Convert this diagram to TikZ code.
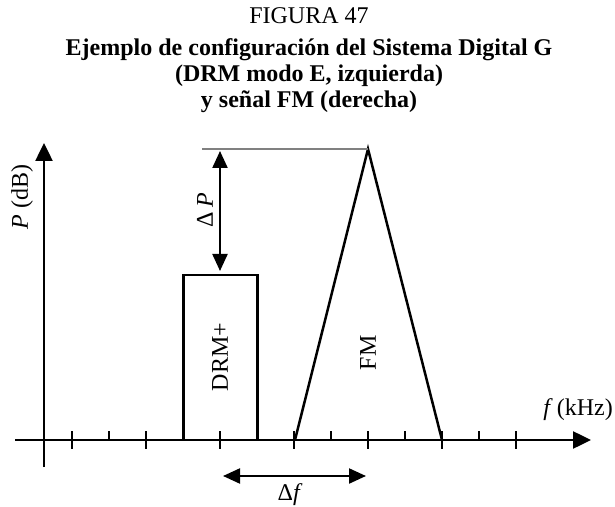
\documentclass[tikz,border=0pt]{standalone}
\usepackage{fontspec}
\setmainfont{Liberation Serif}
\usetikzlibrary{arrows.meta}
\begin{document}
\begin{tikzpicture}[x=0.5pt,y=-0.5pt,
  font=\fontsize{12}{13}\selectfont,
  axis/.style={line width=1.25pt,-{Triangle[length=9pt,width=8.5pt]}},
  curve/.style={line width=1.25pt,line join=miter},
  dim/.style={line width=1.1pt,{Triangle[length=8.5pt,width=7.5pt]}-{Triangle[length=8.5pt,width=7.5pt]}},
  tickl/.style={line width=0.6pt},
  lbl/.style={inner sep=0pt}]
\useasboundingbox (0,0) rectangle (615,507);
% titles
\node[lbl,anchor=base] (t0) at (309,24) {FIGURA 47};
\node[lbl,anchor=base,font=\fontsize{12}{13}\selectfont\bfseries] (t1) at (309,56) {Ejemplo de configuración del Sistema Digital G};
\node[lbl,anchor=base,font=\fontsize{12}{13}\selectfont\bfseries] (t2) at (309,82) {(DRM modo E, izquierda)};
\node[lbl,anchor=base,font=\fontsize{12}{13}\selectfont\bfseries] (t3) at (309,108) {y señal FM (derecha)};
% coordinates
\coordinate (yb) at (44,467);
\coordinate (yt) at (44,143);
\coordinate (xl) at (15,440);
\coordinate (xr) at (591,440);
% ticks
\foreach \x in {72,146,220,294,368,442,516} \draw[tickl] (\x,431) -- (\x,449);
\foreach \x in {109,331,405,479} \draw[tickl] (\x,431) -- (\x,440);
% axes
\draw[axis] (yb) -- (yt);
\draw[axis] (xl) -- (xr);
% DRM rectangle
\coordinate (r1) at (183.5,440);
\coordinate (r2) at (183.5,275);
\coordinate (r3) at (257.5,275);
\coordinate (r4) at (257.5,440);
\draw[curve] (r1) -- (r2) -- (r3) -- (r4);
% FM triangle
\coordinate (f1) at (295,440);
\coordinate (fp) at (368,149);
\coordinate (f2) at (442,440);
\draw[curve] (f1) -- (fp) -- (f2);
% reference line
\coordinate (g1) at (202,149);
\draw[gray,line width=0.7pt] (g1) -- (fp);
% Delta P
\coordinate (dp1) at (220,151);
\coordinate (dp2) at (220,271);
\draw[dim] (dp1) -- (dp2);
\node[lbl,rotate=90] (dpl) at (205,210) {Δ\,\textit{P}};
% Delta f
\coordinate (df1) at (223,476);
\coordinate (df2) at (366,476);
\draw[dim] (df1) -- (df2);
\node[lbl] (dfl) at (290,495) {Δ\textit{f}};
% axis labels
\node[lbl,rotate=90] (pl) at (22,197) {\textit{P} (dB)};
\node[lbl,anchor=base west] (fl) at (543,415) {\textit{f}\,(kHz)};
% region labels
\node[lbl,rotate=90] (drm) at (220,357) {DRM+};
\node[lbl,rotate=90] (fm) at (368,353) {FM};
\end{tikzpicture}
\end{document}
